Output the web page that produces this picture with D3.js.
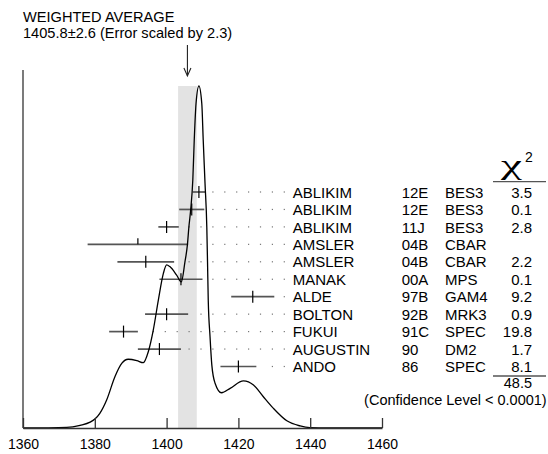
<!DOCTYPE html>
<html><head><meta charset="utf-8">
<script src="https://cdn.jsdelivr.net/npm/d3@7"></script>
<style>
body{margin:0;background:#fff}
svg{display:block}
text{font-family:"Liberation Sans",Arial,Helvetica,sans-serif;fill:#000}
</style>
</head><body>
<svg id="c" width="548" height="454"></svg>
<script>
// ---------- data ----------
const authors     = ["ABLIKIM","ABLIKIM","ABLIKIM","AMSLER","AMSLER","MANAK","ALDE","BOLTON","FUKUI","AUGUSTIN","ANDO"];
const codes       = ["12E","12E","11J","04B","04B","00A","97B","92B","91C","90","86"];
const experiments = ["BES3","BES3","BES3","CBAR","CBAR","MPS","GAM4","MRK3","SPEC","DM2","SPEC"];
const values      = [1409.0,1407.0,1400.0,1392.0,1394.2,1404.0,1424.0,1400.0,1388.0,1398.0,1420.0];
const errLo       = [1.7,3.5,2.3,14.0,7.9,6.0,6.0,6.0,4.0,6.0,5.0];
const errHi       = [1.7,3.5,3.4,14.0,7.9,6.0,6.0,6.0,4.0,6.0,5.0];
const chi2        = ["3.5","0.1","2.8",null,"2.2","0.1","9.2","0.9","19.8","1.7","8.1"];
const chi2Total   = "48.5";
const confidence  = "(Confidence Level < 0.0001)";
const average     = 1405.8;
const averageErr  = 2.6;
const titleLines  = ["WEIGHTED AVERAGE","1405.8\u00b12.6 (Error scaled by 2.3)"];
const tickValues  = [1360,1380,1400,1420,1440,1460];
// ideogram curve (mass, relative height)
const ideogramMass    = [1360.0,1372.2,1375.9,1378.7,1380.1,1381.4,1383.3,1385.6,1387.5,1389.3,1391.7,1393.5,1394.9,1396.3,1397.7,1399.1,1400.0,1400.9,1402.8,1404.1,1405.1,1405.8,1406.2,1406.7,1407.3,1407.7,1408.2,1409.0,1409.8,1410.2,1410.7,1411.2,1411.4,1411.6,1412.1,1412.6,1413.5,1415.3,1417.7,1421.4,1424.2,1426.9,1429.7,1433.5,1437.2,1439.9,1445.0,1460.0];
const ideogramDensity = [0.000,0.002,0.008,0.017,0.027,0.043,0.082,0.150,0.189,0.201,0.197,0.191,0.223,0.287,0.374,0.452,0.477,0.472,0.447,0.427,0.485,0.536,0.587,0.637,0.725,0.842,0.949,1.000,0.949,0.842,0.716,0.587,0.485,0.374,0.267,0.184,0.131,0.103,0.116,0.138,0.126,0.092,0.058,0.021,0.006,0.001,0.000,0.000];

// ---------- layout ----------
const svg = d3.select("#c");
const x = d3.scaleLinear().domain([1360,1460]).range([23,382]);
const y = d3.scaleLinear().domain([0,1]).range([428,86]);
const row = d3.scaleLinear().domain([0,1]).range([192,209.45]);
const nameX = 292.7, codeX = 401.7, expX = 445, chiX = 532;

// titles
svg.selectAll("text.title").data(titleLines).join("text")
  .attr("class","title").attr("x",23).attr("y",(d,i)=>21.8+i*16.4)
  .style("font-size","14.6px").text(d=>d);

// shaded band (average ± error)
svg.append("rect")
  .attr("x",x(average-averageErr)).attr("width",x(average+averageErr)-x(average-averageErr))
  .attr("y",y(1)).attr("height",y(0)-y(1)).attr("fill","#e3e3e3");

// arrow
const ax = x(average);
svg.append("line").attr("x1",ax).attr("x2",ax).attr("y1",45).attr("y2",76)
  .attr("stroke","#222").attr("stroke-width",1.1);
svg.append("path").attr("d",`M${ax-3.5},68 L${ax},76 L${ax+3.5},68`)
  .attr("fill","none").attr("stroke","#222").attr("stroke-width",1.1);

// leader dots
const dotStep = 11.9, lastDot = nameX - 8.4;
values.forEach((v,i)=>{
  const end = x(v+errHi[i]);
  const pts = [];
  for(let px = lastDot; px >= end + 6; px -= dotStep) pts.push(px);
  svg.selectAll(null).data(pts).join("rect")
    .attr("x",d=>d-0.6).attr("y",row(i)-0.6).attr("width",1.2).attr("height",1.2)
    .attr("fill","#777");
});

// error bars
const bars = svg.append("g");
bars.selectAll("line.bar").data(values).join("line").attr("class","bar")
  .attr("x1",(d,i)=>x(d-errLo[i])).attr("x2",(d,i)=>x(d+errHi[i]))
  .attr("y1",(d,i)=>row(i)).attr("y2",(d,i)=>row(i))
  .attr("stroke","#555").attr("stroke-width",1.7);
bars.selectAll("line.tick").data(values).join("line").attr("class","tick")
  .attr("x1",d=>x(d)).attr("x2",d=>x(d))
  .attr("y1",(d,i)=>row(i)-6).attr("y2",(d,i)=>chi2[i]===null?row(i):row(i)+6)
  .attr("stroke","#000").attr("stroke-width",1.2);

// ideogram curve
const curveData = ideogramMass.map((m,i)=>[m,ideogramDensity[i]]);
svg.append("path").datum(curveData)
  .attr("d",d3.line().x(d=>x(d[0])).y(d=>y(d[1])).curve(d3.curveMonotoneX))
  .attr("fill","none").attr("stroke","#000").attr("stroke-width",1.3);

// axes
svg.append("line").attr("x1",x(1360)).attr("x2",x(1360)).attr("y1",70).attr("y2",428)
  .attr("stroke","#333").attr("stroke-width",1.3);
const axis = d3.axisBottom(x).tickValues(tickValues).tickSizeInner(-10).tickSizeOuter(0).tickPadding(10)
  .tickFormat(d3.format("d"));
const ag = svg.append("g").attr("transform","translate(0,428)").call(axis);
ag.select(".domain").attr("stroke","#333").attr("stroke-width",1.3);
ag.selectAll(".tick line").attr("stroke","#333").attr("stroke-width",1.3);
ag.selectAll(".tick text").attr("y",21.3).attr("dy",null)
  .style("font-size","14px").style("font-family","'Liberation Sans',Arial,sans-serif").attr("fill","#000");

// measurement table
const table = svg.append("g").style("font-size","15px");
table.selectAll("text.a").data(authors).join("text").attr("class","a")
  .attr("x",nameX).attr("y",(d,i)=>row(i)+5.6).text(d=>d);
table.selectAll("text.c").data(codes).join("text").attr("class","c")
  .attr("x",codeX).attr("y",(d,i)=>row(i)+5.6).text(d=>d);
table.selectAll("text.e").data(experiments).join("text").attr("class","e")
  .attr("x",expX).attr("y",(d,i)=>row(i)+5.6).text(d=>d);
table.selectAll("text.k").data(chi2).join("text").attr("class","k")
  .attr("x",chiX).attr("y",(d,i)=>row(i)+5.6).attr("text-anchor","end").text(d=>d===null?"":d);

// chi^2 header
svg.append("text").attr("x",501).attr("y",174).style("font-family","'Liberation Serif','Times New Roman',serif")
  .style("font-size","27px").attr("textLength",21).attr("lengthAdjust","spacingAndGlyphs").text("\u03c7");
svg.append("text").attr("x",525).attr("y",162).style("font-size","14px").text("2");
svg.append("line").attr("x1",493).attr("x2",546).attr("y1",181.7).attr("y2",181.7)
  .attr("stroke","#555").attr("stroke-width",1.3);
svg.append("line").attr("x1",493).attr("x2",546).attr("y1",376).attr("y2",376)
  .attr("stroke","#555").attr("stroke-width",1.3);
svg.append("text").attr("x",chiX).attr("y",388.4).attr("text-anchor","end").style("font-size","14.5px").text(chi2Total);
svg.append("text").attr("x",546.7).attr("y",404.8).attr("text-anchor","end").style("font-size","14.5px").text(confidence);
</script>
</body></html>
